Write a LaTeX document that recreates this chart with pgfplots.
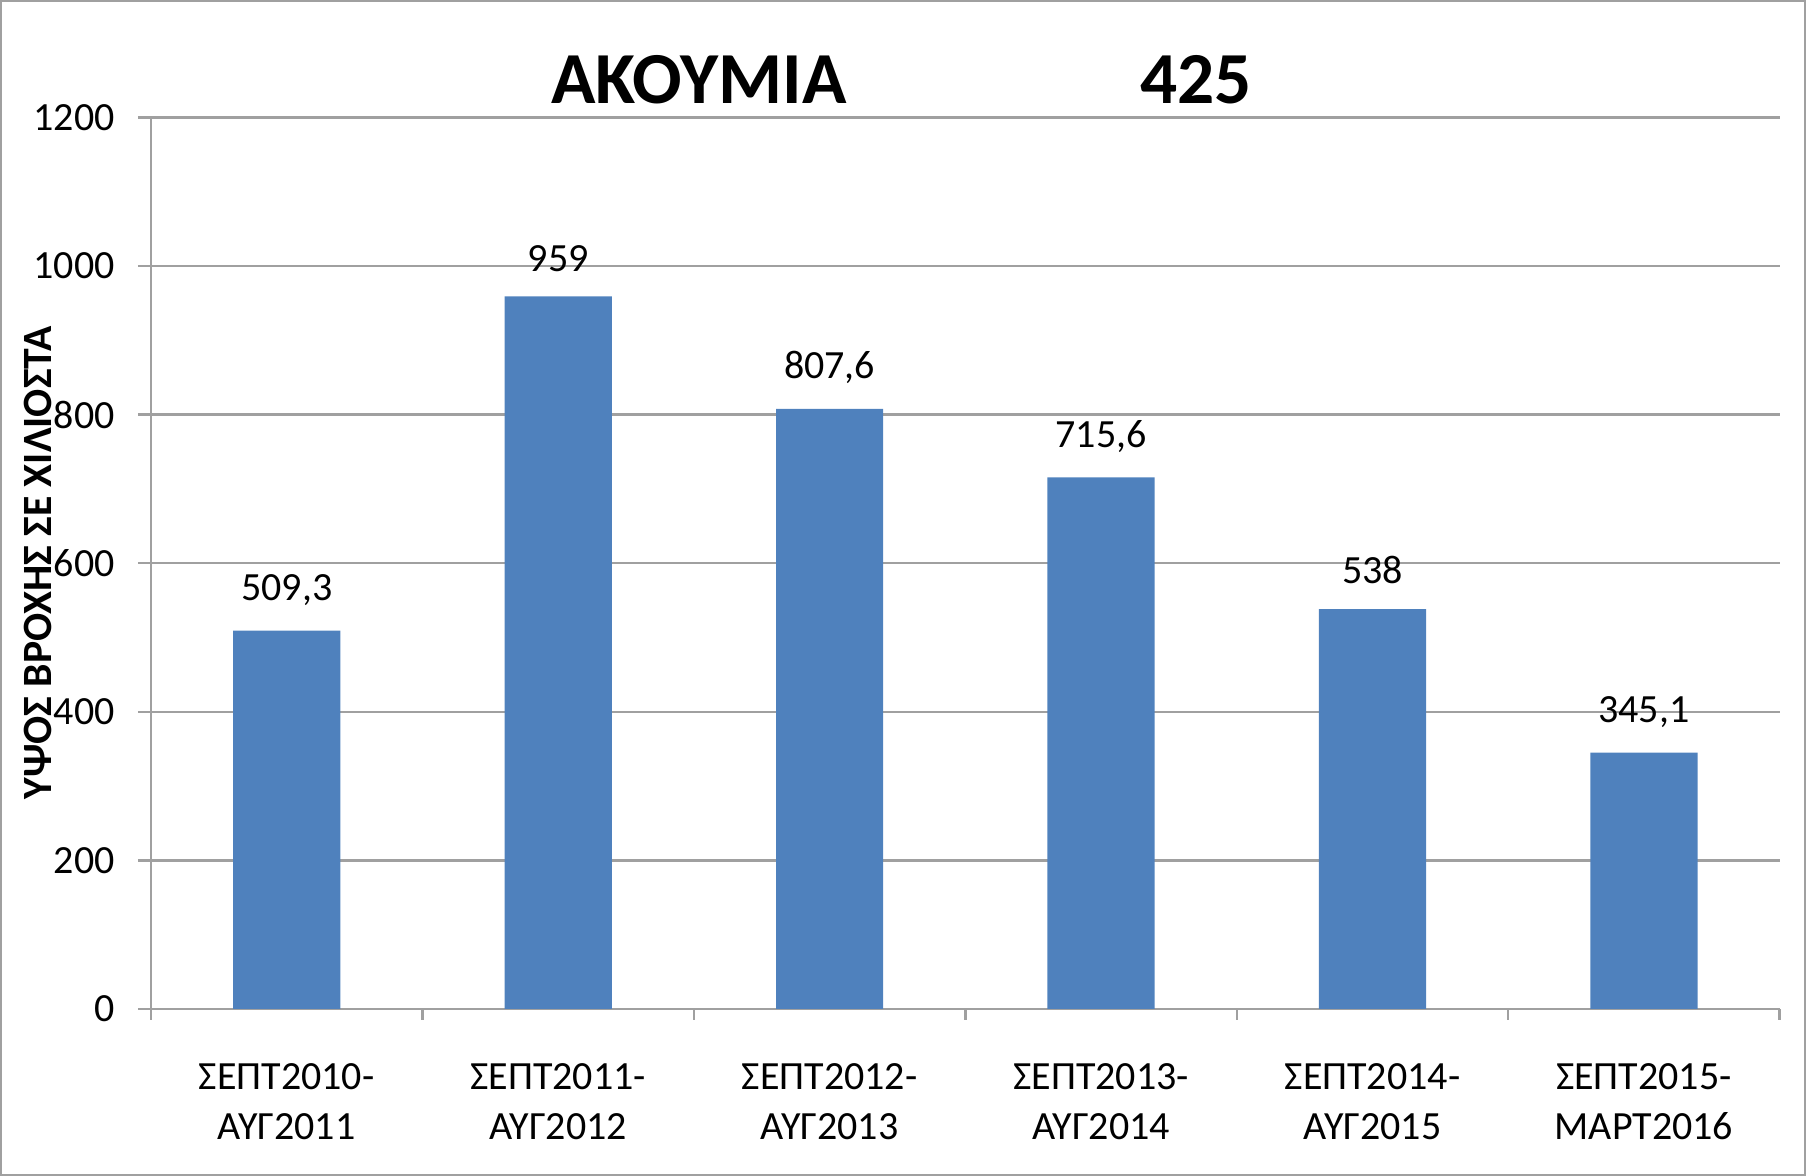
\documentclass[border=0pt]{standalone}
\usepackage{pgfplots}
\pgfplotsset{compat=1.18}
\usepackage{fontspec}
\setmainfont{Carlito}
\definecolor{barblue}{HTML}{4F81BD}
\definecolor{gridgray}{HTML}{A0A0A0}
\begin{document}
\begin{tikzpicture}[x=1pt,y=1pt]
\path[use as bounding box] (0,0) rectangle (541.8,352.8);
\draw[gridgray, line width=0.7pt] (0.35,0.35) rectangle (541.45,352.45);
\node[anchor=base west, font=\fontsize{22}{26}\selectfont\bfseries] at (161.8,321.7) {ΑΚΟΥΜΙΑ};
\node[anchor=base west, font=\fontsize{22}{26}\selectfont\bfseries] at (338.5,321.7) {425};
\begin{axis}[
  at={(45.3pt,50.1pt)}, anchor=south west,
  scale only axis, width=488.6pt, height=267.5pt,
  xmin=-0.5, xmax=5.5, ymin=0, ymax=1200,
  ytick={0,200,...,1200},
  xtick={0,...,5},
  xticklabels={{ΣΕΠΤ2010-\\ΑΥΓ2011},{ΣΕΠΤ2011-\\ΑΥΓ2012},{ΣΕΠΤ2012-\\ΑΥΓ2013},{ΣΕΠΤ2013-\\ΑΥΓ2014},{ΣΕΠΤ2014-\\ΑΥΓ2015},{ΣΕΠΤ2015-\\ΜΑΡΤ2016}},
  minor xtick={-0.5,0.5,...,5.5},
  axis x line*=bottom, axis y line*=left,
  axis line style={gridgray, line width=0.75pt, -},
  tick align=outside,
  x tick style={draw=none},
  minor x tick style={gridgray, line width=0.75pt, draw=gridgray},
  y tick style={gridgray, line width=0.75pt},
  major tick length=3.9pt, minor tick length=3.2pt,
  ymajorgrids, grid style={gridgray, line width=0.75pt},
  /pgf/number format/assume math mode=true,
  /pgf/number format/1000 sep={},
  ticklabel style={font=\fontsize{12}{14.9}\selectfont},
  yticklabel style={xshift=-3.5pt},
  xticklabel style={align=center, yshift=-9pt},
  ylabel={ΥΨΟΣ ΒΡΟΧΗΣ ΣΕ ΧΙΛΙΟΣΤΑ},
  every axis y label/.style={at={(axis description cs:-0.0694,0.5)}, rotate=90, anchor=center, font=\fontsize{12.5}{15}\selectfont\bfseries},
  nodes near coords,
  point meta=explicit symbolic,
  every node near coord/.append style={font=\fontsize{12}{14}\selectfont, yshift=4pt, black},
]
\addplot[ybar, bar width=0.395, fill=barblue, draw=none, bar shift=0pt] table[meta=lab] {
x y lab
0 509.3 509,3
1 959 959
2 807.6 807,6
3 715.6 715,6
4 538 538
5 345.1 345,1
};
\end{axis}
\end{tikzpicture}
\end{document}
